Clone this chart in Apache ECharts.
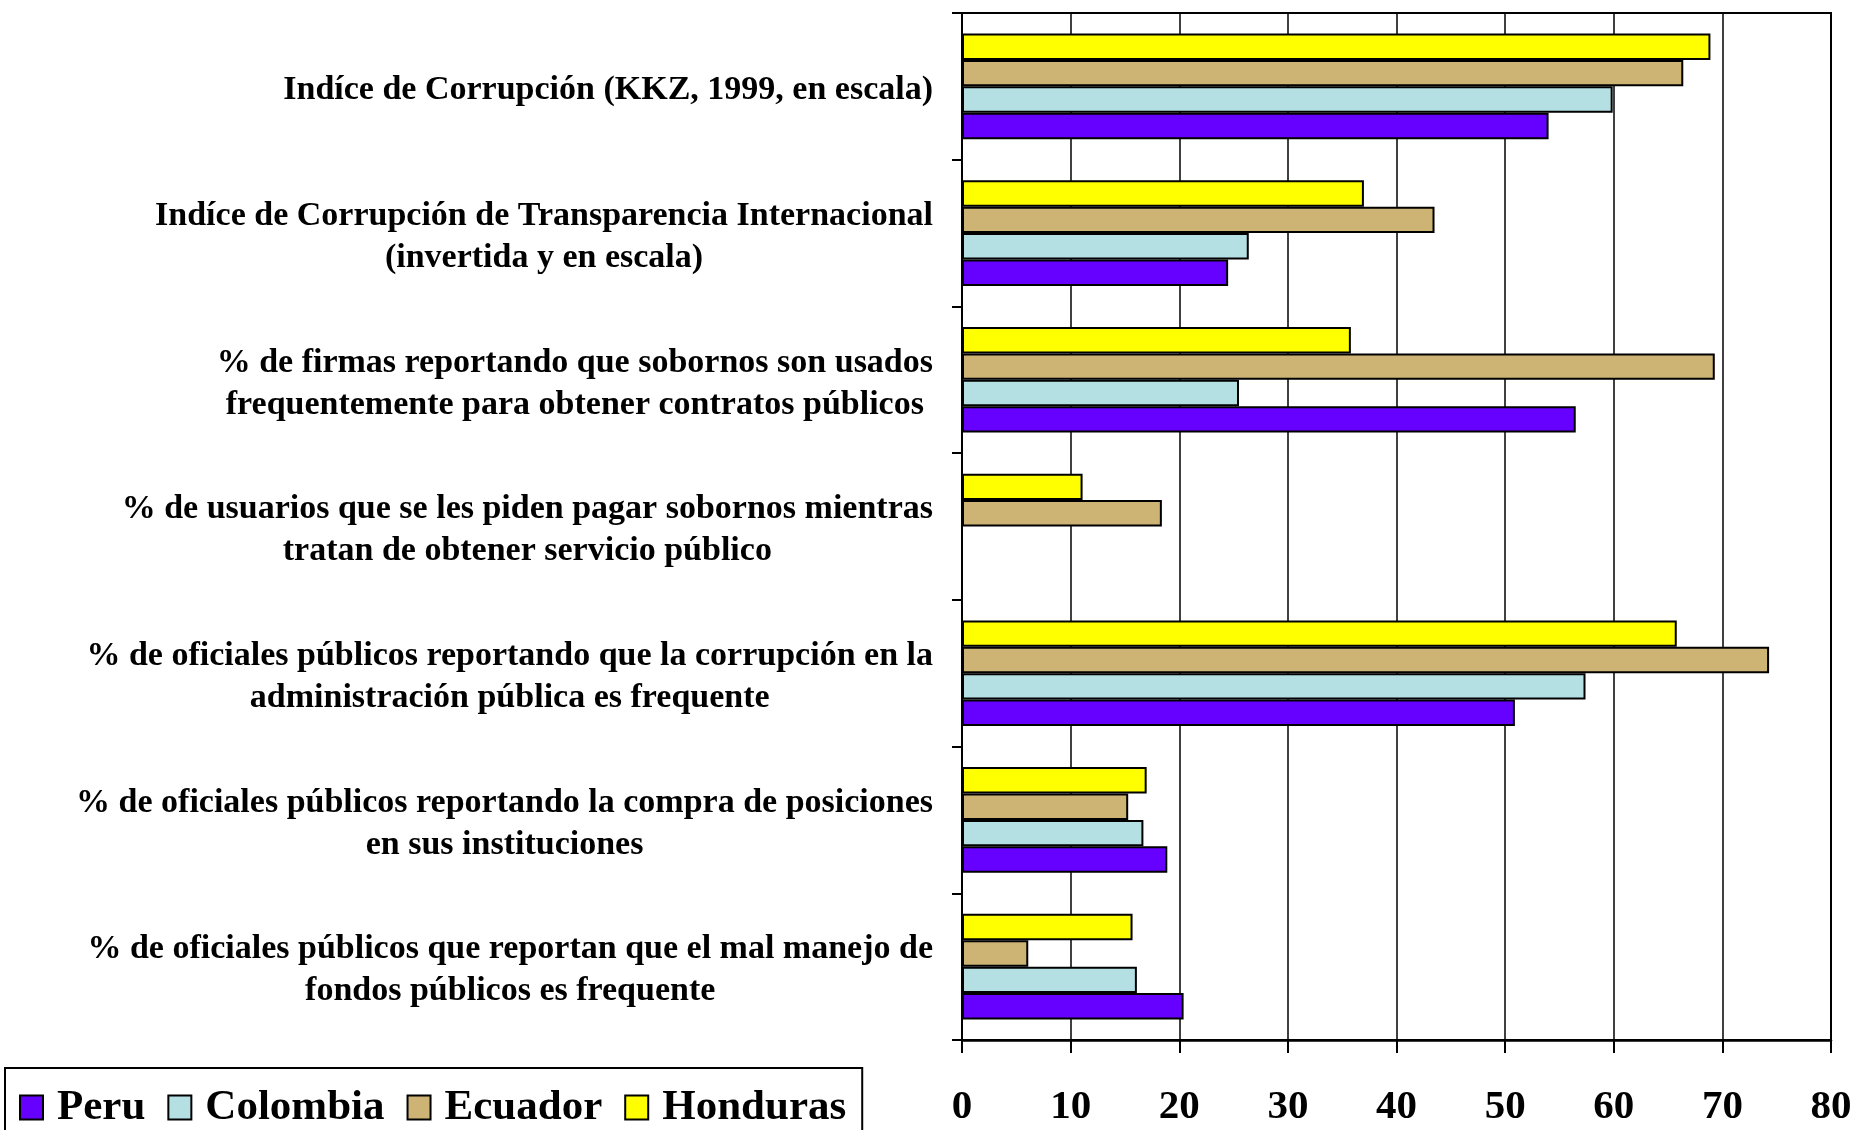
<!DOCTYPE html>
<html>
<head>
<meta charset="utf-8">
<title>Indicadores de corrupción</title>
<script src="https://cdn.jsdelivr.net/npm/echarts@6/dist/echarts.min.js"></script>
<style>
  html, body { margin: 0; padding: 0; background: #fff; }
  #chart { width: 1857px; height: 1130px; }
</style>
</head>
<body>
<div id="chart"></div>
<script>
// categorias (de arriba hacia abajo)
var categorias = [
  "Indíce de Corrupción (KKZ, 1999, en escala)",
  "Indíce de Corrupción de Transparencia Internacional\n(invertida y en escala)",
  "% de firmas reportando que sobornos son usados\nfrequentemente para obtener contratos públicos",
  "% de usuarios que se les piden pagar sobornos mientras\ntratan de obtener servicio público",
  "% de oficiales públicos reportando que la corrupción en la\nadministración pública es frequente",
  "% de oficiales públicos reportando la compra de posiciones\nen sus instituciones",
  "% de oficiales públicos que reportan que el mal manejo de\nfondos públicos es frequente"
];

// valores por pais
var peru     = [54.0, 24.5, 56.5, null, 50.9, 18.9, 20.4];
var colombia = [59.9, 26.4, 25.5, null, 57.4, 16.7, 16.1];
var ecuador  = [66.4, 43.5, 69.3, 18.4, 74.3, 15.3, 6.1];
var honduras = [68.9, 37.0, 35.8, 11.1, 65.8, 17.0, 15.7];

var paises = ["Peru", "Colombia", "Ecuador", "Honduras"];
var colores = {
  Peru: "#6600FF",
  Colombia: "#B4E0E4",
  Ecuador: "#CDB374",
  Honduras: "#FFFF00"
};

var fuente = "'Liberation Serif', 'Times New Roman', serif";

function barra(nombre, datos) {
  return {
    name: nombre,
    type: "bar",
    data: datos,
    barGap: "0%",
    barCategoryGap: "28%",
    itemStyle: {
      color: colores[nombre],
      borderColor: "#000",
      borderWidth: 2
    }
  };
}

var chart = echarts.init(document.getElementById("chart"));

var option = {
  animation: false,
  backgroundColor: "#fff",
  grid: {
    left: 962,
    right: 26,
    top: 13,
    bottom: 90,
    show: true,
    borderColor: "#000",
    borderWidth: 2
  },
  legend: {
    data: paises,
    left: 5,
    top: 1068,
    icon: "rect",
    itemWidth: 23,
    itemHeight: 24,
    itemGap: 22,
    padding: [18, 16, 40, 14],
    borderColor: "#000",
    borderWidth: 2,
    itemStyle: { borderColor: "#000", borderWidth: 2 },
    textStyle: {
      fontFamily: fuente,
      fontWeight: "bold",
      fontSize: 43,
      color: "#000",
      padding: [0, 0, 0, 9]
    }
  },
  xAxis: {
    type: "value",
    min: 0,
    max: 80,
    interval: 10,
    axisLine: { show: true, lineStyle: { color: "#000", width: 2.5 } },
    axisTick: { show: true, length: 13, lineStyle: { color: "#000", width: 2 } },
    splitLine: { show: true, lineStyle: { color: "#000", width: 1.5 } },
    axisLabel: {
      margin: 47,
      fontFamily: fuente,
      fontWeight: "bold",
      fontSize: 41,
      lineHeight: 41,
      color: "#000"
    }
  },
  yAxis: {
    type: "category",
    data: categorias,
    inverse: true,
    axisLine: { show: true, lineStyle: { color: "#000", width: 2 } },
    axisTick: { show: true, length: 10, lineStyle: { color: "#000", width: 2 } },
    axisLabel: {
      margin: 29,
      color: "#000",
      padding: [8, 0, 0, 0],
      formatter: function (v) {
        return v.split("\n").map(function (l) { return "{c|" + l + "}"; }).join("\n");
      },
      rich: {
        c: {
          align: "center",
          fontFamily: fuente,
          fontWeight: "bold",
          fontSize: 34,
          lineHeight: 42,
          color: "#000"
        }
      }
    }
  },
  series: [
    barra("Honduras", honduras),
    barra("Ecuador", ecuador),
    barra("Colombia", colombia),
    barra("Peru", peru)
  ]
};

chart.setOption(option);
</script>
</body>
</html>
